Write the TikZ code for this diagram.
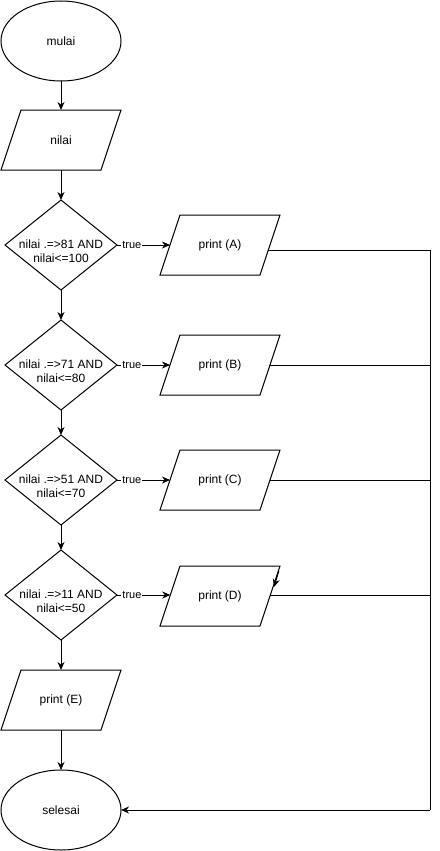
\documentclass[tikz,border=0pt]{standalone}
\usepackage{fontspec}
\setmainfont{Liberation Sans}
\usetikzlibrary{shapes.geometric,arrows.meta,calc}
\begin{document}
\begin{tikzpicture}[x=1pt,y=-1pt,
  every node/.style={font=\fontsize{12}{14.5}\selectfont},
  base/.style={draw=black,line width=1pt,outer sep=0pt,inner sep=0pt},
  term/.style={base,ellipse,minimum width=120,minimum height=80},
  io/.style={rectangle,outer sep=0pt,inner sep=0pt,minimum width=100,minimum height=60},
  decision/.style={base,diamond,minimum width=112,minimum height=90},
  dtext/.style={align=center,inner sep=0pt},
  lbl/.style={fill=white,inner sep=1pt,font=\fontsize{11}{13}\selectfont},
  arr/.style={line width=1pt,-{Stealth[length=8pt,width=7pt,inset=2.5pt]}},
  ln/.style={line width=1pt}]
\useasboundingbox (0,0) rectangle (439,851);

\node[term] (start) at (61,41) {mulai};
\node[io] (in) at (61,140) {nilai};

\node[decision] (d1) at (61,245) {};
\node[dtext] (t1) at (61,251) {nilai .=>81 AND\\nilai<=100};
\node[decision] (d2) at (61,365) {};
\node[dtext] (t2) at (61,371) {nilai .=>71 AND\\nilai<=80};
\node[decision] (d3) at (61,480) {};
\node[dtext] (t3) at (61,486) {nilai .=>51 AND\\nilai<=70};
\node[decision] (d4) at (61,595) {};
\node[dtext] (t4) at (61,601) {nilai .=>11 AND\\nilai<=50};

\node[io] (pa) at (220,245) {print (A)};
\node[io] (pb) at (220,365) {print (B)};
\node[io] (pc) at (220,480) {print (C)};
\node[io] (pd) at (220,596) {print (D)};
\node[io] (pe) at (61,700) {print (E)};

\node[term] (end) at (61,810) {selesai};

\foreach \n in {in,pa,pb,pc,pd,pe}
  \draw[ln,line join=miter] ($(\n.south west)+(-10,0)$) -- ($(\n.north west)+(10,0)$)
     -- ($(\n.north east)+(10,0)$) -- ($(\n.south east)+(-10,0)$) -- cycle;

\coordinate (corner) at (430,810);
\coordinate (aout) at ($(pa.east)+(-1.7,5)$);
\coordinate (dout) at ($(pd.east)+(0.3,-1)$);
\coordinate (din) at ($(pd.west)+(0.3,-1)$);

\draw[arr] (start) -- (in);
\draw[arr] (in) -- (d1);
\draw[arr] (d1) -- (d2);
\draw[arr] (d2) -- (d3);
\draw[arr] (d3) -- (d4);
\draw[arr] (d4) -- (pe);
\draw[arr] (pe) -- (end);

\draw[arr] (d1.east) -- node[lbl,pos=0.28] (l1) {true} (pa.west);
\draw[arr] (d2.east) -- node[lbl,pos=0.28] (l2) {true} (pb.west);
\draw[arr] (d3.east) -- node[lbl,pos=0.28] (l3) {true} (pc.west);
\draw[arr] (d4.east |- din) -- node[lbl,pos=0.28] (l4) {true} (din);

\draw[ln] (aout) -| (corner);
\draw[arr] (corner) -- (end.east);
\draw[ln] (pb.east) -- (pb.east -| corner);
\draw[ln] (pc.east) -- (pc.east -| corner);
\draw[ln] (dout) -- (dout -| corner);

\coordinate (dtop) at (278.8,571);
\coordinate (dtip) at (274.0,587);
\draw[arr] (dtop) -- (dtip);
\end{tikzpicture}
\end{document}
